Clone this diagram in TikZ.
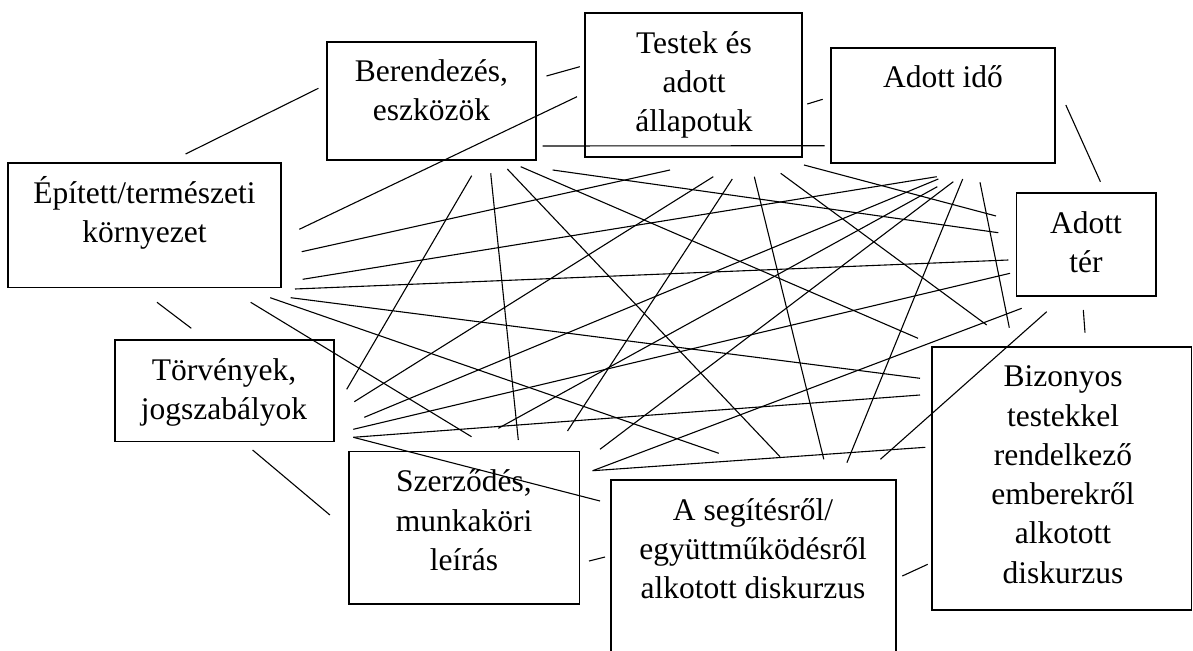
\documentclass[tikz,border=0pt]{standalone}
\usepackage{fontspec}
\setmainfont{Liberation Serif}
\newcommand\mlines[1]{\vtop{\halign{\hfil##\hfil\cr #1\crcr}}}
\begin{document}
\begin{tikzpicture}[x=1pt,y=-1pt,
  box/.style={draw, line width=1.6pt, inner sep=0pt, outer sep=0pt},
  conn/.style={line width=1.1pt},
  lbl/.style={anchor=base, inner sep=0pt, font=\fontsize{31.5}{39.3}\selectfont}]
\useasboundingbox (0,0) rectangle (1193,650);
% boxes
\node[box, minimum width=209pt, minimum height=118pt] (ber) at (431.5,101) {};
\node[box, minimum width=217pt, minimum height=144pt] (tes) at (693.5,85) {};
\node[box, minimum width=224pt, minimum height=115pt] (ido) at (943,105.5) {};
\node[box, minimum width=139.5pt, minimum height=103pt] (ter) at (1086.25,244.5) {};
\node[box, minimum width=273pt, minimum height=124.5pt] (ep) at (144.5,225.25) {};
\node[box, minimum width=219pt, minimum height=101.5pt] (tor) at (224.5,390.75) {};
\node[box, minimum width=230.5pt, minimum height=152.5pt] (szer) at (464.25,527.75) {};
\node[box, minimum width=285pt, minimum height=180pt] (seg) at (753.5,570) {};
\node[box, minimum width=259.5pt, minimum height=263pt] (biz) at (1061.75,478.5) {};
% labels
\node[lbl] (tber) at (431.5,81.7) {\mlines{Berendezés,\cr eszközök}};
\node[lbl] (ttes) at (694,53.3) {\mlines{Testek és\cr adott\cr állapotuk}};
\node[lbl] (tido) at (943,87.3) {\mlines{Adott idő}};
\node[lbl] (tter) at (1086,233.3) {\mlines{Adott\cr tér}};
\node[lbl] (tep) at (144.5,203.3) {\mlines{Épített/természeti\cr környezet}};
\node[lbl] (ttor) at (224,380) {\mlines{Törvények,\cr jogszabályok}};
\node[lbl] (tszer) at (464,491.7) {\mlines{Szerződés,\cr munkaköri\cr leírás}};
\node[lbl] (tseg) at (753,520) {\mlines{A segítésről/\cr együttműködésről\cr alkotott diskurzus}};
\node[lbl] (tbiz) at (1063,386.7) {\mlines{Bizonyos\cr testekkel\cr rendelkező\cr emberekről\cr alkotott\cr diskurzus}};
% connectors
\foreach \i/\xa/\ya/\xb/\yb in {
  s1/185.6/154/318.4/88.3,
  s2/546.5/76/579.8/66.7,
  s3/807.3/104/822.7/99.3,
  s4/1065.8/105/1100.4/181.7,
  s5/1083.3/310/1085/332.7,
  s6/902.3/576/927.7/564.3,
  s7/589/561/605/557,
  s8/252.6/450/329.9/515,
  s9/157/302.3/191.3/328.3,
  l1/299.3/229.3/577/96.7,
  l2/301.7/251.7/670/170,
  l3/302.7/279.3/936.7/176.7,
  l4/295/289/1008.3/260,
  l5/290.7/297.7/920/378.3,
  l6/270.2/297.7/718.8/453.3,
  l7/250.7/302.3/471.5/436.7,
  l8/542.7/146/824.6/145.7,
  l9/471.7/175.7/346.7/389.3,
  l10/490.7/173.3/518.3/440,
  l11/507.3/169/780/456.7,
  l12/520.7/166.7/918/338.3,
  l13/552.7/170/998.3/232.7,
  l14/713.3/176.7/354.3/401.7,
  l15/732.3/179/567.5/431,
  l16/754.3/176.7/823.8/459.3,
  l17/780.7/173.3/986.7/325,
  l18/804/165/996/216,
  l19/938.3/179/364.3/417.3,
  l20/937.3/186.7/498.3/428.3,
  l21/953.3/181.7/600/449.3,
  l22/962.7/179/846.9/462.7,
  l23/980/182.3/1009.3/327.7,
  l24/1010/273.3/353.3/429.3,
  l25/1021.7/308.3/592.7/470.7,
  l26/1046.7/311.7/880.4/459.3,
  l27/353.3/437.3/920/395,
  l28/353.3/437.3/600/501,
  l29/592.7/470.7/925.4/447.3}
{
  \coordinate (\i a) at (\xa,\ya);
  \coordinate (\i b) at (\xb,\yb);
  \draw[conn] (\i a) -- (\i b);
}
\end{tikzpicture}
\end{document}
